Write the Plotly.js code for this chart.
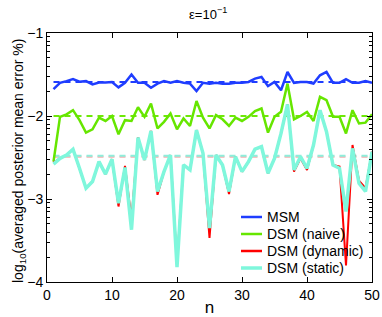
<!DOCTYPE html>
<html>
<head>
<meta charset="utf-8">
<script src="https://cdn.plot.ly/plotly-3.0.1.min.js"></script>
<style>html,body{margin:0;padding:0;background:#fff;}#chart{width:382px;height:317px;}</style>
</head>
<body>
<div id="chart"></div>
<script>
const n = Array.from({length: 50}, (_, i) => i + 1);

const msm = [-1.675,-1.60,-1.58,-1.555,-1.586,-1.58,-1.62,-1.597,-1.597,-1.59,
  -1.655,-1.60,-1.50,-1.60,-1.60,-1.66,-1.61,-1.58,-1.60,-1.58,
  -1.60,-1.61,-1.70,-1.60,-1.61,-1.60,-1.61,-1.61,-1.60,-1.60,
  -1.59,-1.55,-1.53,-1.64,-1.59,-1.69,-1.47,-1.60,-1.59,-1.59,
  -1.61,-1.51,-1.47,-1.60,-1.60,-1.555,-1.60,-1.60,-1.58,-1.60];

const naive = [-2.55,-2.01,-1.98,-1.93,-2.05,-2.20,-2.16,-2.02,-2.06,-2.00,
  -2.22,-2.05,-2.06,-1.895,-2.01,-1.85,-2.15,-2.07,-1.97,-2.16,
  -2.03,-2.12,-1.82,-2.02,-2.15,-1.99,-2.04,-2.12,-2.02,-2.06,
  -2.01,-1.94,-1.91,-2.20,-2.01,-1.95,-1.61,-2.04,-2.00,-1.95,
  -2.06,-1.77,-1.81,-2.01,-2.01,-2.21,-1.93,-2.09,-2.08,-1.98];

const dynamic = [-2.56,-2.51,-2.47,-2.40,-2.63,-2.87,-2.79,-2.55,-2.70,-2.52,
  -3.09,-2.60,-3.25,-2.26,-2.53,-2.18,-2.95,-2.67,-2.47,-3.78,
  -2.59,-2.65,-2.17,-2.45,-3.47,-2.47,-2.59,-2.94,-2.49,-2.67,
  -2.55,-2.40,-2.37,-2.69,-2.51,-2.21,-1.86,-2.67,-2.51,-2.65,
  -2.35,-1.93,-2.19,-2.59,-2.61,-3.80,-2.35,-2.78,-2.87,-2.43];

const staticS = [-2.58,-2.51,-2.47,-2.40,-2.63,-2.87,-2.79,-2.55,-2.70,-2.52,
  -3.05,-2.62,-3.37,-2.26,-2.53,-2.18,-2.91,-2.67,-2.47,-3.82,
  -2.59,-2.65,-2.17,-2.45,-3.35,-2.47,-2.59,-2.91,-2.49,-2.67,
  -2.55,-2.40,-2.37,-2.69,-2.51,-2.21,-1.86,-2.65,-2.49,-2.63,
  -2.35,-1.93,-2.19,-2.59,-2.63,-3.15,-2.39,-2.81,-2.91,-2.43];

const meanMSM = -1.59;
const meanNaive = -2.0;
const meanDynamic = -2.49;
const meanStatic = -2.48;

const names = ['MSM', 'DSM (naive)', 'DSM (dynamic)', 'DSM (static)'];
const colors = ['#1f3dff', '#66e600', '#ff0000', '#7ff7dc'];
const dashColors = ['#1f3dff', '#6ee808', '#f2b0b0', '#8eeedb'];
const widths = [2.5, 2.5, 2, 3.5];
const yTickVals = [-1, -2, -3, -4];
const yTickText = ['\u22121', '\u22122', '\u22123', '\u22124'];
const xTickVals = [0, 10, 20, 30, 40, 50];

const series = [msm, naive, dynamic, staticS];
const means = [meanMSM, meanNaive, meanDynamic, meanStatic];

const traces = [];
means.forEach((m, i) => {
  traces.push({
    x: [n[0], n[n.length - 1]], y: [m, m], mode: 'lines', showlegend: false,
    line: {color: dashColors[i], width: 2, dash: '6px,5px'}, hoverinfo: 'skip'
  });
});
series.forEach((s, i) => {
  traces.push({
    x: n, y: s, mode: 'lines', name: names[i], showlegend: false,
    line: {color: colors[i], width: widths[i]}
  });
});

// log-style minor ticks
const minorVals = [];
for (let d = 1; d <= 4; d++) {
  for (let k = 2; k <= 9; k++) {
    const v = -d + Math.log10(k);
    if (v >= -4 && v <= -1) minorVals.push(v);
  }
}

// plot area geometry (px)
const W = 382, H = 317, mL = 47, mR = 10, mT = 33, mB = 35;
const pw = W - mL - mR, ph = H - mT - mB;
const px2x = p => (p - mL) / pw;
const py2y = p => (H - mB - p) / ph;
const legRows = [217, 234, 251, 268];
const shapes = [], annotations = [];
names.forEach((nm, i) => {
  shapes.push({type: 'line', xref: 'paper', yref: 'paper',
    x0: px2x(241), x1: px2x(262), y0: py2y(legRows[i]), y1: py2y(legRows[i]),
    line: {color: colors[i], width: i === 3 ? 3.5 : 2.5}});
  annotations.push({xref: 'paper', yref: 'paper', x: px2x(265), y: py2y(legRows[i]),
    xanchor: 'left', yanchor: 'middle', text: nm, showarrow: false,
    font: {size: 14, color: '#000'}});
});
// y-axis title
annotations.push({xref: 'paper', yref: 'paper', x: px2x(19), y: py2y(161),
  xanchor: 'center', yanchor: 'middle', textangle: -90, showarrow: false,
  text: 'log<sub>10</sub>(averaged posterior mean error %)', font: {size: 14, color: '#000'}});

const font = {family: 'Liberation Sans, Arial, sans-serif', size: 14, color: '#000'};

const layout = {
  width: W, height: H,
  margin: {l: mL, r: mR, t: mT, b: mB},
  paper_bgcolor: '#fff', plot_bgcolor: '#fff',
  font: font,
  title: {text: '\u03b5=10<sup>\u22121</sup>', x: 0.545, xref: 'container', xanchor: 'center',
          y: 0.955, yref: 'container', yanchor: 'middle', font: {size: 13}},
  xaxis: {
    range: [0, 50], tickvals: xTickVals, ticks: 'inside', ticklen: 5, tickcolor: '#000',
    showline: true, linecolor: '#000', linewidth: 1, mirror: 'ticks', showgrid: false, zeroline: false,
    title: {text: 'n', standoff: 2}, tickfont: {size: 14}
  },
  yaxis: {
    range: [-4, -1], tickvals: yTickVals, ticktext: yTickText, ticks: 'inside', ticklen: 5, tickcolor: '#000',
    showline: true, linecolor: '#000', linewidth: 1, mirror: 'ticks', showgrid: false, zeroline: false,
    minor: {tickmode: 'array', tickvals: minorVals, ticks: 'inside', ticklen: 3, tickcolor: '#000', showgrid: false},
    tickfont: {size: 14}
  },
  shapes: shapes,
  annotations: annotations,
  showlegend: false
};

Plotly.newPlot('chart', traces, layout, {displayModeBar: false, staticPlot: true});
</script>
</body>
</html>
